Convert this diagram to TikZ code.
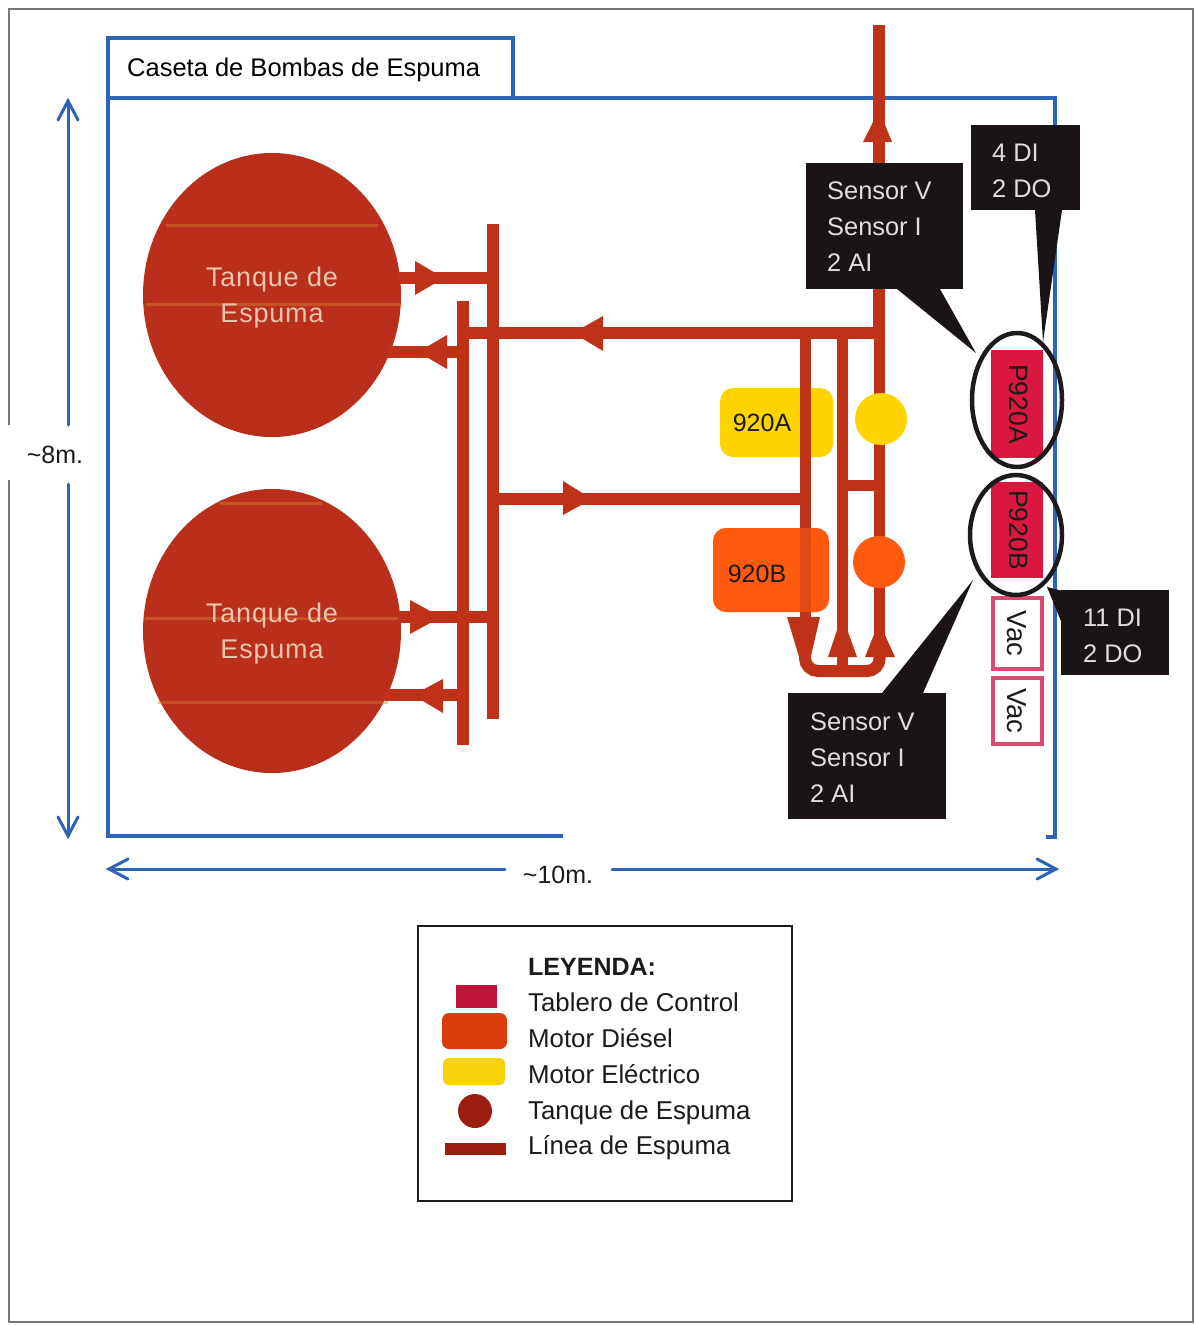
\documentclass[tikz,border=0pt]{standalone}
\usepackage{fontspec}
\setmainfont{Liberation Sans}
\definecolor{pipecol}{HTML}{BE3218}
\definecolor{tankcol}{HTML}{B92F1B}
\definecolor{roomblue}{HTML}{2E64B8}
\definecolor{panelred}{HTML}{D9173F}
\definecolor{vacpink}{HTML}{DC4A72}
\definecolor{elecyellow}{HTML}{FFD400}
\definecolor{dieselorange}{HTML}{FF5A0E}
\definecolor{calloutblack}{HTML}{1A1418}
\definecolor{calloutgrey}{HTML}{DEDEDE}
\definecolor{tanktext}{HTML}{EBC4B0}
\definecolor{stripe}{HTML}{D8802E}
\definecolor{framegrey}{HTML}{777777}
\definecolor{inkblack}{HTML}{1C1A1C}
\definecolor{legcrimson}{HTML}{C0143C}
\definecolor{legorange}{HTML}{DC3C0A}
\definecolor{legyellow}{HTML}{F5D20A}
\definecolor{legdark}{HTML}{9C1E10}
\usetikzlibrary{shapes.geometric}
\tikzset{
  x=1pt,y=-1pt,
  pipe/.style={draw=pipecol,line width=12pt},
  thinpipe/.style={draw=pipecol,line width=11pt},
  head/.style={fill=pipecol},
  roomline/.style={draw=roomblue,line width=3.5pt},
  dimline/.style={draw=roomblue,line width=3pt,line cap=round},
  dimhead/.style={draw=roomblue,line width=3pt,line cap=round,line join=miter,fill=none},
  tank/.style={ellipse,draw=none,fill=tankcol,minimum width=258pt,minimum height=284pt,inner sep=0},
  tanklabel/.style={text=tanktext,font=\fontsize{27}{36}\selectfont\addfontfeature{LetterSpace=3},align=center,inner sep=0},
  tankstripe/.style={draw=stripe,line width=3pt,opacity=.45},
  callout/.style={text=calloutgrey,font=\fontsize{25.4}{36}\selectfont,align=left,anchor=north west,inner sep=0},
  calltail/.style={fill=calloutblack},
  panel/.style={fill=panelred,minimum width=52pt,inner sep=0,font=\fontsize{26.5}{28}\selectfont,text=inkblack},
  vacbox/.style={draw=vacpink,line width=4pt,fill=white,minimum width=49pt,inner sep=0,font=\fontsize{27.5}{30}\selectfont,text=inkblack},
  ring/.style={draw=inkblack,line width=4.5pt,ellipse,inner sep=0,fill=none},
  legtext/.style={anchor=base west,inner sep=0,text=inkblack,font=\fontsize{25.8}{30}\selectfont},
  motor/.style={rounded corners=13pt,inner sep=0},
  motorlabel/.style={inner sep=0,font=\fontsize{25}{30}\selectfont,text=inkblack},
  dimlabel/.style={inner sep=0,text=inkblack,font=\fontsize{25}{30}\selectfont},
}
\begin{document}
\begin{tikzpicture}
\useasboundingbox (0,0) rectangle (1196,1325);
\fill[white] (0,0) rectangle (1196,1325);
% page frame
\draw[framegrey,line width=1.2pt] (9,425) -- (9,9) -- (1193,9) -- (1193,1322) -- (9,1322) -- (9,480);
% room
\draw[roomline] (513,98) -- (1055,98) -- (1055,837) -- (1046,837);
\draw[roomline] (563,836) -- (108,836) -- (108,38) -- (513,38) -- (513,98) -- (108,98);
\node[inner sep=0,anchor=base west,text=black,font=\fontsize{25.5}{30}\selectfont] (title) at (127,76) {Caseta de Bombas de Espuma};
% dimensions
\node[dimlabel] (dimv) at (55,455) {\textasciitilde 8m.};
\node[dimlabel] (dimh) at (558,875) {\textasciitilde 10m.};
\coordinate (vt) at (68,101); \coordinate (vb) at (68,836);
\coordinate (hl) at (109,869); \coordinate (hr) at (1056,869);
\draw[dimline] (vt) -- (68,425) (68,484) -- (vb);
\draw[dimline] (hl) -- (505,869) (612,869) -- (hr);
\draw[dimhead] (58,120) -- (vt) -- (78,120);
\draw[dimhead] (58,817) -- (vb) -- (78,817);
\draw[dimhead] (128,859) -- (hl) -- (128,879);
\draw[dimhead] (1037,859) -- (hr) -- (1037,879);
% tanks
\node[tank] (tank1) at (272,295) {};
\node[tank] (tank2) at (272,631) {};
\draw[tankstripe] (166,225) -- (378,225) (146,304) -- (402,304);
\draw[tankstripe] (220,503) -- (322,503) (145,618) -- (402,618) (158,702) -- (388,702);
\node[tanklabel] (tl1) at (272,298) {Tanque de\\Espuma};
\node[tanklabel] (tl2) at (272,634) {Tanque de\\Espuma};
% motors below the pipes
\node[motor,fill=elecyellow,minimum width=113pt,minimum height=69pt] (m920A) at (776.5,422.5) {};
\node[motor,fill=dieselorange,minimum width=116pt,minimum height=84pt] (m920Bbase) at (771,570) {};
% pipe junction points
\coordinate (topend) at (879,25);
\coordinate (cjtop) at (879,333);
\coordinate (hdrR) at (463,333);
\coordinate (busAt) at (493,224); \coordinate (busAb) at (493,719);
\coordinate (busBt) at (463,301); \coordinate (busBb) at (463,745);
\coordinate (retL) at (493,499); \coordinate (retR) at (805,499);
\coordinate (pA) at (805,333); \coordinate (pB) at (842,333);
\coordinate (pAb) at (805,640); \coordinate (pBb) at (842,671);
\coordinate (lc) at (879,640);
% pipes
\draw[pipe] (topend) -- (cjtop);
\draw[thinpipe] (cjtop) -- (lc);
\draw[pipe] (cjtop) -- (hdrR);
\draw[pipe] (busAt) -- (busAb);
\draw[pipe] (busBt) -- (busBb);
\draw[pipe] (retL) -- (retR);
\draw[thinpipe] (pA) -- (pAb);
\draw[thinpipe] (pB) -- (pBb);
\draw[thinpipe] (842,485) -- (879,485);
\draw[draw=pipecol,line width=12pt,rounded corners=13pt] (pAb) -- (805,671) -- (880,671) -- (lc);
\draw[pipe] (398,278) -- (493,278);
\draw[pipe] (388,352) -- (463,352);
\draw[pipe] (398,617) -- (493,617);
\draw[pipe] (385,695) -- (463,695);
% arrow heads
\fill[head] (863,142) -- (892,142) -- (879,110) -- cycle;
\fill[head] (603,316) -- (603,351) -- (573,333) -- cycle;
\fill[head] (563,481) -- (563,515) -- (592,499) -- cycle;
\fill[head] (415,261) -- (415,295) -- (444,278) -- cycle;
\fill[head] (447,335) -- (447,369) -- (418,352) -- cycle;
\fill[head] (410,600) -- (410,634) -- (441,617) -- cycle;
\fill[head] (443,679) -- (443,713) -- (413,695) -- cycle;
\fill[head] (787,617) -- (820,617) -- (811,656) -- (800,660) -- cycle;
\fill[head] (828,657) -- (857,657) -- (842,615) -- cycle;
\fill[head] (865,657) -- (895,657) -- (879,622) -- cycle;
% diesel motor veil over the pipe
\node[motor,fill=dieselorange,fill opacity=.6,minimum width=116pt,minimum height=84pt] (m920B) at (771,570) {};
\node[motorlabel] (lA) at (762,423) {920A};
\node[motorlabel] (lB) at (757,574) {920B};
\node[circle,fill=elecyellow,minimum size=52pt,inner sep=0] (cA) at (881,419) {};
\node[circle,fill=dieselorange,minimum size=52pt,inner sep=0] (cB) at (879,562) {};
% panels
\node[panel,minimum height=108pt] (pnlA) at (1017,404) {\kern 4pt\rotatebox{-90}{P920A}};
\node[panel,minimum height=96pt] (pnlB) at (1017,530) {\kern 4pt\rotatebox{-90}{P920B}};
\node[vacbox,minimum height=71pt] (vac1) at (1017,633.5) {\rotatebox{-90}{Vac}};
\node[vacbox,minimum height=66pt] (vac2) at (1017,711) {\rotatebox{-90}{Vac}};
\node[ring,minimum width=90pt,minimum height=134pt] (ringA) at (1017,400) {};
\node[ring,minimum width=92pt,minimum height=120pt] (ringB) at (1016,535) {};
% callouts
\fill[calloutblack] (806,163) rectangle (963,289);
\fill[calloutblack] (971,125) rectangle (1080,210);
\fill[calloutblack] (1061,590) rectangle (1169,675);
\fill[calloutblack] (788,693) rectangle (946,819);
\coordinate (tipA) at (976,353); \coordinate (tipD) at (1043,342);
\coordinate (tipE) at (1047,587); \coordinate (tipB) at (973,580);
\fill[calltail] (897,289) -- (940,289) -- (tipA) -- cycle;
\fill[calltail] (1035,210) -- (1062,210) -- (tipD) -- cycle;
\fill[calltail] (1063,591) -- (1063,626) -- (tipE) -- cycle;
\fill[calltail] (882,693) -- (923,693) -- (tipB) -- cycle;
\node[callout] (sA) at (827,182) {Sensor V\\Sensor I\\2 AI};
\node[callout] (dA) at (992,144) {4 DI\\2 DO};
\node[callout] (dB) at (1083,609) {11 DI\\2 DO};
\node[callout] (sB) at (810,713) {Sensor V\\Sensor I\\2 AI};
% legend
\draw[inkblack,line width=2.2pt] (418,926) rectangle (792,1201);
\node[legtext,font=\bfseries\fontsize{25}{30}\selectfont] (leg0) at (528,975) {LEYENDA:};
\node[legtext] (leg1) at (528,1011.5) {Tablero de Control};
\node[legtext] (leg2) at (528,1047) {Motor Diésel};
\node[legtext] (leg3) at (528,1083) {Motor Eléctrico};
\node[legtext] (leg4) at (528,1119) {Tanque de Espuma};
\node[legtext] (leg5) at (528,1154.5) {Línea de Espuma};
\fill[legcrimson] (456,985) rectangle (497,1008);
\fill[legorange,rounded corners=7pt] (442,1013) rectangle (507,1049);
\fill[legyellow,rounded corners=6pt] (443,1058) rectangle (505,1085);
\fill[legdark] (475,1111) circle[radius=17];
\fill[legdark] (445,1143) rectangle (506,1155);
\end{tikzpicture}
\end{document}
